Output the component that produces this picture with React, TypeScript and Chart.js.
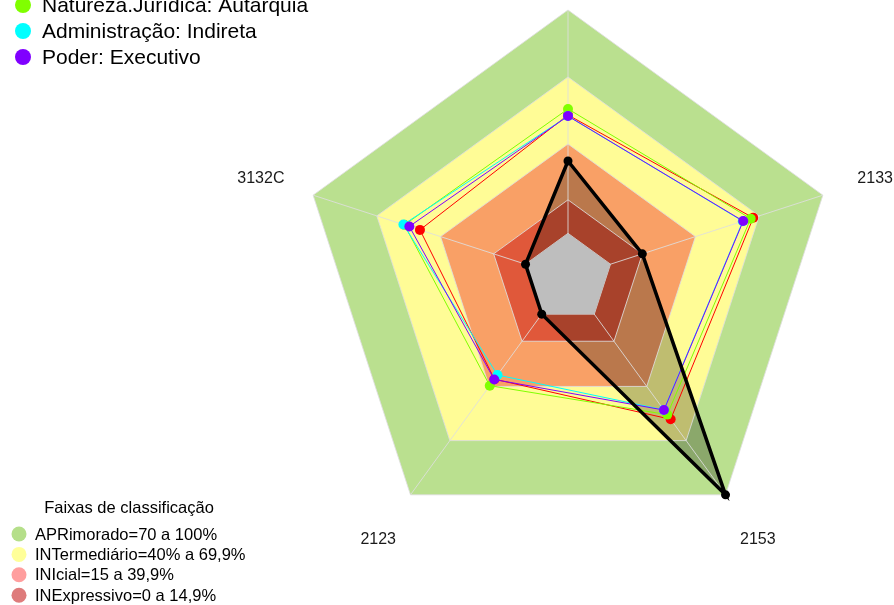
import React, { useEffect, useRef } from 'react';
import { Chart, registerables } from 'chart.js';

Chart.register(...registerables);

// ---- data ----
const axisLabels = ['', '2133', '2153', '2123', '3132C'];
const blackValues = [32.4, 15, 100, 0, 0];
const redValues = [53, 67.2, 58.2, 36, 49.7];
const greenValues = [55.7, 66, 55.6, 39.6, 57];
const cyanValues = [52.5, 62.3, 53, 33.7, 57.5];
const purpleValues = [52.5, 62.5, 53.1, 36.2, 54.7];

const legendNames = ['Natureza.Jurídica: Autarquia', 'Administração: Indireta', 'Poder: Executivo'];
const legendColors = ['#80ff00', '#00ffff', '#8000ff'];

const bandLimits = [100, 70, 40, 15];
const bandColors = ['#bae08f', '#fffc96', '#f9a066', '#e0583a'];
const centerLimit = 0;
const centerColor = '#bebebe';

const bandLegendTitle = 'Faixas de classificação';
const bandLegendLabels = [
  'APRimorado=70 a 100%',
  'INTermediário=40% a 69,9%',
  'INIcial=15 a 39,9%',
  'INExpressivo=0 a 14,9%',
];
const bandLegendColors = ['#b5df8a', '#ffff99', '#ff9e9e', '#de7b7b'];

const scaleMin = -20;
const scaleMax = 100;
const gridTicks = [0, 15, 40, 70, 100];

const FONT = '"Liberation Sans", Arial, sans-serif';

export default function App() {
  const ref = useRef<HTMLCanvasElement | null>(null);

  useEffect(() => {
    document.body.style.margin = '0';
    const canvas = ref.current;
    if (!canvas) return;

    const overlay = {
      id: 'overlay',
      beforeDatasetsDraw(chart: any) {
        const scale = chart.scales.r;
        const ctx = chart.ctx;
        ctx.save();
        ctx.beginPath();
        for (let i = 0; i < axisLabels.length; i++) {
          const p = scale.getPointPositionForValue(i, centerLimit);
          if (i === 0) ctx.moveTo(p.x, p.y);
          else ctx.lineTo(p.x, p.y);
        }
        ctx.closePath();
        ctx.fillStyle = centerColor;
        ctx.fill();
        ctx.restore();
      },
      afterDraw(chart: any) {
        const scale = chart.scales.r;
        const ctx = chart.ctx;
        ctx.save();
        // axis labels
        ctx.fillStyle = '#1a1a1a';
        ctx.font = `16px ${FONT}`;
        ctx.textAlign = 'center';
        ctx.textBaseline = 'middle';
        for (let i = 0; i < axisLabels.length; i++) {
          const p = scale.getPointPosition(i, scale.drawingArea * 1.205);
          ctx.fillText(axisLabels[i], p.x, p.y);
        }
        // top legend
        ctx.textAlign = 'left';
        ctx.font = `21px ${FONT}`;
        legendNames.forEach((name, k) => {
          const y = 5 + k * 26;
          ctx.beginPath();
          ctx.arc(23, y, 8, 0, Math.PI * 2);
          ctx.fillStyle = legendColors[k];
          ctx.fill();
          ctx.fillStyle = '#000';
          ctx.fillText(name, 42, y + 1);
        });
        // band legend
        ctx.font = `16.5px ${FONT}`;
        ctx.textAlign = 'center';
        ctx.fillStyle = '#000';
        ctx.fillText(bandLegendTitle, 129, 508);
        ctx.textAlign = 'left';
        bandLegendLabels.forEach((name, k) => {
          const y = 534 + k * 20.4;
          ctx.beginPath();
          ctx.arc(19, y, 7.5, 0, Math.PI * 2);
          ctx.fillStyle = bandLegendColors[k];
          ctx.fill();
          ctx.fillStyle = '#000';
          ctx.fillText(name, 35, y + 1);
        });
        ctx.restore();
      },
    };

    const series = [
      { data: blackValues, color: '#000000', width: 3.5, radius: 4.5, order: 0, fill: 'start', bg: 'rgba(0,0,0,0.25)' },
      { data: purpleValues, color: '#8000ff', width: 1, radius: 5, order: 1, fill: false, bg: '#8000ff' },
      { data: cyanValues, color: '#00ffff', width: 1, radius: 5, order: 2, fill: false, bg: '#00ffff' },
      { data: greenValues, color: '#80ff00', width: 1, radius: 5, order: 3, fill: false, bg: '#80ff00' },
      { data: redValues, color: '#ff0000', width: 1, radius: 5, order: 4, fill: false, bg: '#ff0000' },
    ];

    const datasets: any[] = series.map((s) => ({
      data: s.data,
      borderColor: s.color,
      borderWidth: s.width,
      backgroundColor: s.bg,
      pointBackgroundColor: s.color,
      pointBorderWidth: 0,
      pointRadius: s.radius,
      fill: s.fill,
      order: s.order,
      tension: 0,
    }));

    bandLimits.forEach((lim, k) => {
      datasets.push({
        data: axisLabels.map(() => lim),
        borderWidth: 0,
        borderColor: 'transparent',
        backgroundColor: bandColors[k],
        pointRadius: 0,
        fill: 'start',
        order: 10 - k,
      });
    });

    const chart = new Chart(canvas, {
      type: 'radar',
      data: { labels: axisLabels, datasets },
      options: {
        responsive: false,
        animation: false,
        events: [],
        plugins: {
          legend: { display: false },
          tooltip: { enabled: false },
          filler: { drawTime: 'beforeDraw' },
        },
        scales: {
          r: {
            min: scaleMin,
            max: scaleMax,
            ticks: { display: false },
            pointLabels: { display: false },
            grid: { color: 'rgba(222,222,222,0.85)', lineWidth: 1 },
            angleLines: { color: 'rgba(222,222,222,0.85)', lineWidth: 1 },
            afterBuildTicks(scale: any) {
              scale.ticks = gridTicks.map((v) => ({ value: v }));
            },
            afterFit(scale: any) {
              scale.xCenter = 568;
              scale.yCenter = 278;
              scale.drawingArea = 268;
            },
          },
        },
      } as any,
      plugins: [overlay],
    });

    return () => chart.destroy();
  }, []);

  return <canvas ref={ref} width={894} height={605} style={{ display: 'block' }} />;
}
